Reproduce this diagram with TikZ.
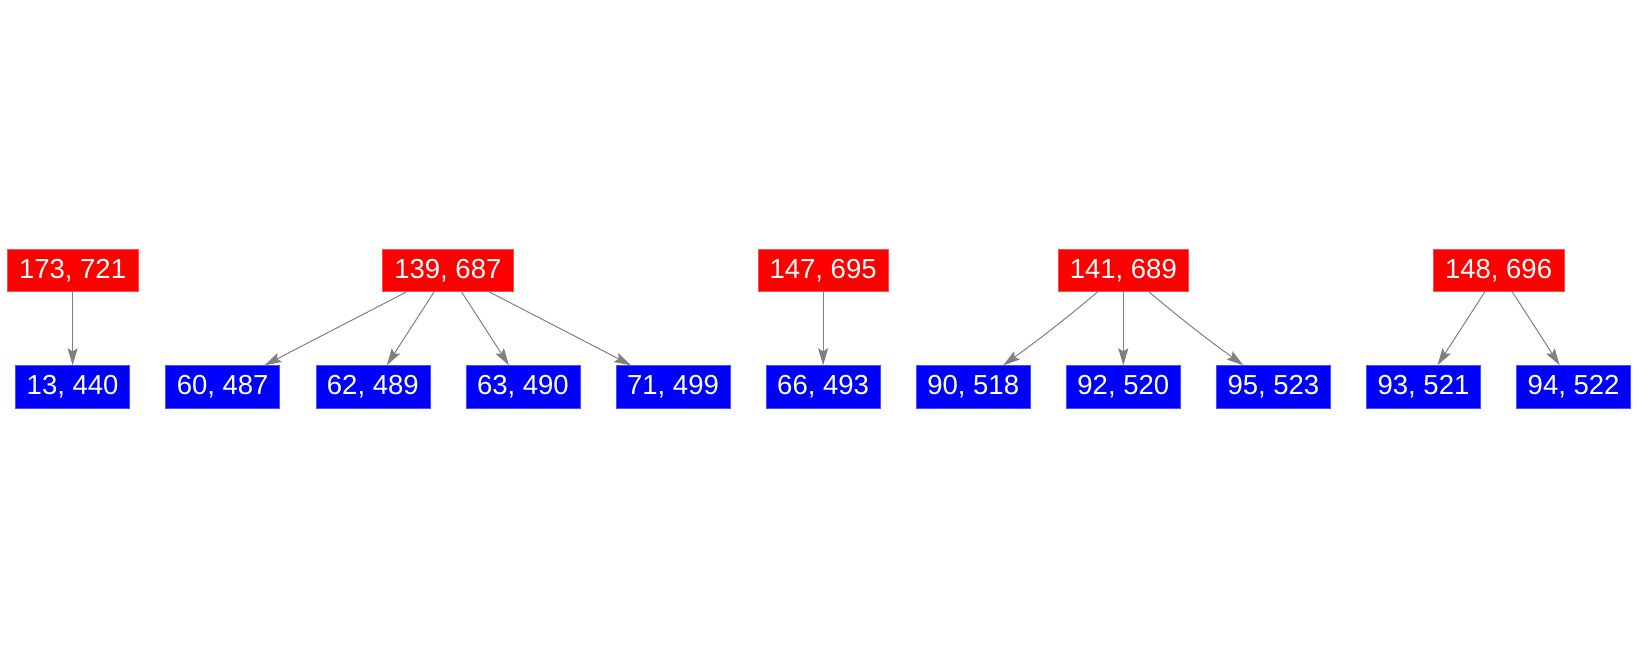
\documentclass[tikz,border=0pt]{standalone}
\usepackage{fontspec}
\setmainfont{Liberation Sans}
\usetikzlibrary{arrows.meta}
\definecolor{edgegray}{RGB}{128,128,128}
\tikzset{
  rnode/.style={fill=red, draw=red!70!white, line width=0.6pt, text=white, minimum width=130.6pt, minimum height=41.7pt, inner sep=0pt, font=\fontsize{27.5pt}{30pt}\selectfont},
  bnode/.style={fill=blue, draw=blue!70!white, line width=0.6pt, text=white, minimum width=114pt, minimum height=42.8pt, inner sep=0pt, font=\fontsize{27.5pt}{30pt}\selectfont},
  edge/.style={draw=edgegray, line width=1pt, -{Stealth[length=17pt, width=10pt, inset=3pt]}}
}
\begin{document}
\begin{tikzpicture}[x=1pt, y=-1pt]
\useasboundingbox (0,0) rectangle (1638,656);
% red nodes
\node[rnode] (r1) at (72.6,270.5) {173, 721};
\node[rnode] (r2) at (447.85,270.5) {139, 687};
\node[rnode] (r3) at (823.1,270.5) {147, 695};
\node[rnode] (r4) at (1123.3,270.5) {141, 689};
\node[rnode] (r5) at (1498.55,270.5) {148, 696};
% blue nodes
\node[bnode] (b0) at (72.6,387) {13, 440};
\node[bnode] (b1) at (222.7,387) {60, 487};
\node[bnode] (b2) at (372.8,387) {62, 489};
\node[bnode] (b3) at (522.9,387) {63, 490};
\node[bnode] (b4) at (673.0,387) {71, 499};
\node[bnode] (b5) at (823.1,387) {66, 493};
\node[bnode] (b6) at (973.2,387) {90, 518};
\node[bnode] (b7) at (1123.3,387) {92, 520};
\node[bnode] (b8) at (1273.4,387) {95, 523};
\node[bnode] (b9) at (1423.5,387) {93, 521};
\node[bnode] (b10) at (1573.6,387) {94, 522};
% edges
\draw[edge] (r1) -- (b0);
\draw[edge] (r2) -- (b1);
\draw[edge] (r2) -- (b2);
\draw[edge] (r2) -- (b3);
\draw[edge] (r2) -- (b4);
\draw[edge] (r3) -- (b5);
\draw[edge] (r4) to[bend left=2] (b6);
\draw[edge] (r4) -- (b7);
\draw[edge] (r4) to[bend right=2] (b8);
\draw[edge] (r5) -- (b9);
\draw[edge] (r5) -- (b10);
\end{tikzpicture}
\end{document}
